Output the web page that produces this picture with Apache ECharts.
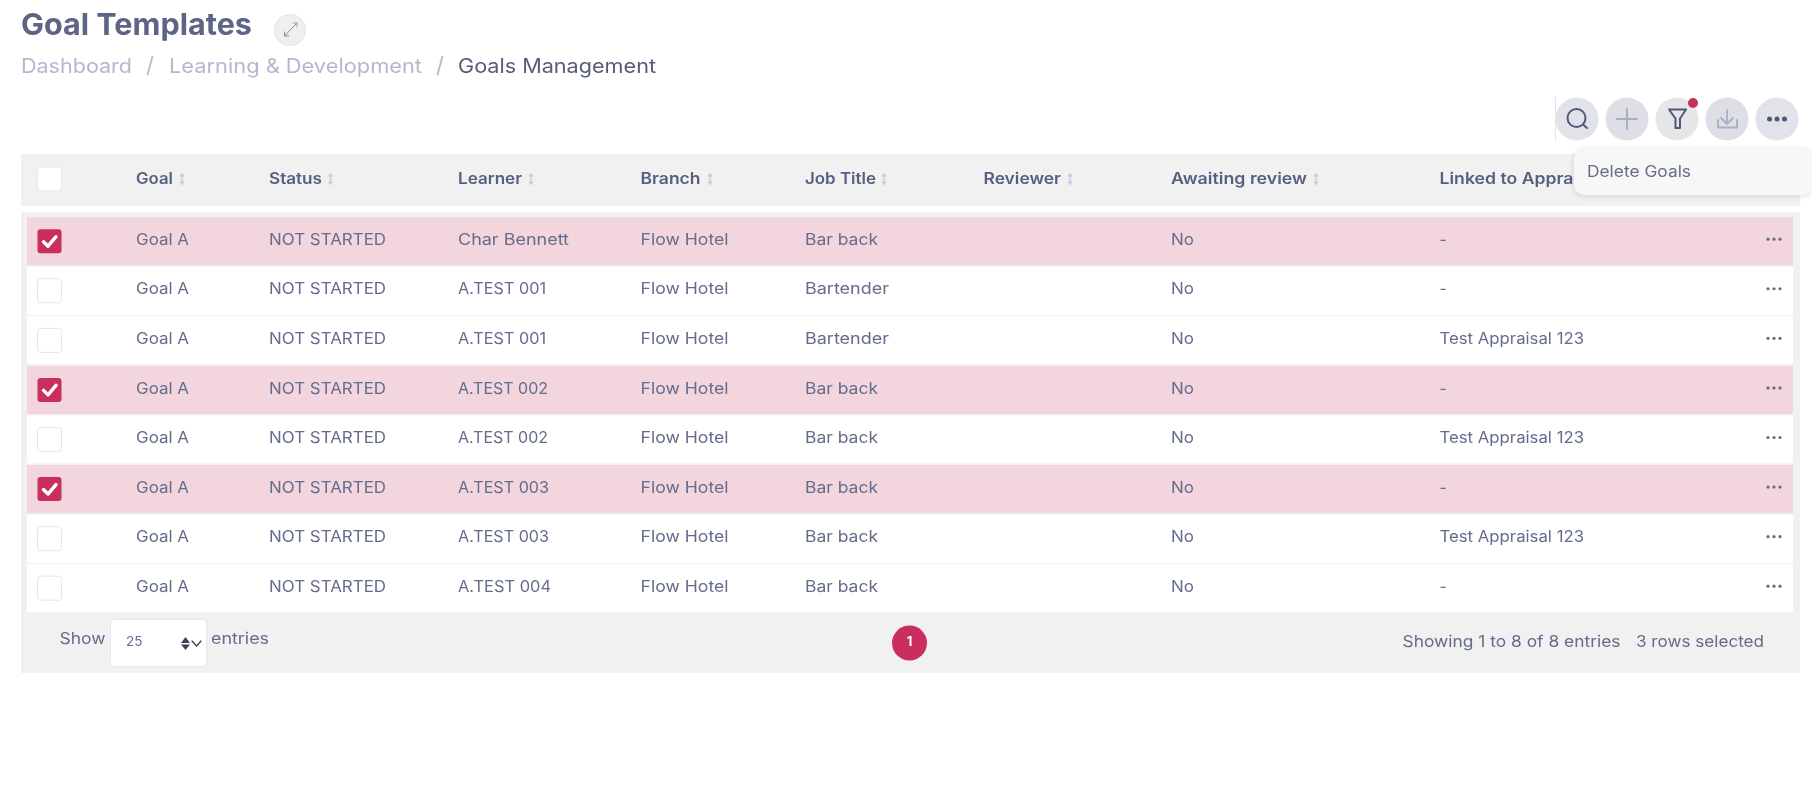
<!DOCTYPE html>
<html>
<head>
<meta charset="utf-8">
<title>Goal Templates</title>
<style>
html, body { margin: 0; padding: 0; background: #fff; }
#main { width: 1812px; height: 808px; }
</style>
<script src="https://cdn.jsdelivr.net/npm/echarts@6/dist/echarts.min.js"></script>
</head>
<body>
<div id="main"></div>
<script>
/*====================数据====================*/
var headers = ['Goal', 'Status', 'Learner', 'Branch', 'Job Title', 'Reviewer', 'Awaiting review', 'Linked to Appraisal'];
var goals = ['Goal A', 'Goal A', 'Goal A', 'Goal A', 'Goal A', 'Goal A', 'Goal A', 'Goal A'];
var statuses = ['NOT STARTED', 'NOT STARTED', 'NOT STARTED', 'NOT STARTED', 'NOT STARTED', 'NOT STARTED', 'NOT STARTED', 'NOT STARTED'];
var learners = ['Char Bennett', 'A.TEST 001', 'A.TEST 001', 'A.TEST 002', 'A.TEST 002', 'A.TEST 003', 'A.TEST 003', 'A.TEST 004'];
var branches = ['Flow Hotel', 'Flow Hotel', 'Flow Hotel', 'Flow Hotel', 'Flow Hotel', 'Flow Hotel', 'Flow Hotel', 'Flow Hotel'];
var jobTitles = ['Bar back', 'Bartender', 'Bartender', 'Bar back', 'Bar back', 'Bar back', 'Bar back', 'Bar back'];
var reviewers = ['', '', '', '', '', '', '', ''];
var awaiting = ['No', 'No', 'No', 'No', 'No', 'No', 'No', 'No'];
var linked = ['-', '-', 'Test Appraisal 123', '-', 'Test Appraisal 123', '-', 'Test Appraisal 123', '-'];
var selected = [1, 0, 0, 1, 0, 1, 0, 0];
var breadcrumbs = ['Dashboard', 'Learning & Development', 'Goals Management'];
var rowNames = ['r1', 'r2', 'r3', 'r4', 'r5', 'r6', 'r7', 'r8'];

/*====================布局+样式====================*/
var columns = [goals, statuses, learners, branches, jobTitles, reviewers, awaiting, linked];
var colLeft = [136, 269, 458, 640.5, 805, 983.5, 1171, 1439.5];
var sortLeft = [182, 330.5, 531, 710, 884, 1070, 1316];
var FONT = 'Inter, "Noto Sans", sans-serif';
var TEXT = '#646c8b';
var HEAD = '#575f80';
var MUTED = '#b3b8cf';
var RED = '#c92e5f';
var PINK = '#f3d5dd';
var GRAY = '#f1f1f1';
var ICON = '#a9aec4';
var DARK = '#4f5879';

// 原图字体比 Inter 宽，这里按原图量出的文字宽度横向拉伸
var textWidths = {
    'Goal Templates': 231, 'Dashboard': 111, 'Learning & Development': 253, 'Goals Management': 198,
    'Goal': 37, 'Status': 53, 'Learner': 64, 'Branch': 60, 'Job Title': 71, 'Reviewer': 77.5,
    'Awaiting review': 136, 'Linked to Appraisal': 163,
    'Goal A': 53, 'NOT STARTED': 117, 'Char Bennett': 111, 'A.TEST 001': 88, 'A.TEST 002': 90,
    'A.TEST 003': 91, 'A.TEST 004': 93, 'Flow Hotel': 88, 'Bar back': 73, 'Bartender': 84,
    'No': 23, 'Test Appraisal 123': 144.5, 'Delete Goals': 104, 'Show': 46, 'entries': 58,
    'Showing 1 to 8 of 8 entries': 218, '3 rows selected': 128
};
var measureCtx = document.createElement('canvas').getContext('2d');

function font(size, weight) {
    return (weight || 400) + ' ' + size + 'px ' + FONT;
}

function label(x, y, text, size, fill, weight, z, align) {
    var fontStr = font(size, weight);
    measureCtx.font = fontStr;
    var target = textWidths[text];
    return {
        type: 'text',
        z: z || 5,
        x: x,
        y: y,
        scaleX: target ? target / measureCtx.measureText(text).width : 1,
        style: { x: 0, y: 0, text: text, fill: fill, font: fontStr, verticalAlign: 'middle', align: align || 'left' }
    };
}

function circle(cx, cy, r, fill, z) {
    return { type: 'circle', z: z || 5, shape: { cx: cx, cy: cy, r: r }, style: { fill: fill } };
}

function box(x, y, w, h, fill, r, z, extra) {
    var style = { fill: fill };
    for (var k in extra) style[k] = extra[k];
    return { type: 'rect', z: z || 1, shape: { x: x, y: y, width: w, height: h, r: r || 0 }, style: style };
}

function stroke(points, color, width) {
    return {
        type: 'polyline',
        z: 6,
        shape: { points: points },
        style: { fill: null, stroke: color, lineWidth: width || 1.5, lineCap: 'round', lineJoin: 'round' }
    };
}

/*====================页面外框 (graphic)====================*/
var chrome = [
    box(21, 154, 1779, 52, GRAY),
    box(21, 212, 1779, 461, GRAY),
    label(21, 26, 'Goal Templates', 30, '#5d6587', 700),
    { type: 'circle', z: 5, shape: { cx: 290, cy: 30, r: 15.5 }, style: { fill: '#efefef', stroke: '#e2e2e2', lineWidth: 1 } },
    stroke([[284.5, 36], [297, 23]], '#7f8fa8', 1),
    stroke([[293, 23], [297, 23], [297, 27]], '#9aa0b4', 1),
    stroke([[284.5, 32], [284.5, 36], [288.5, 36]], '#6f8fb0', 1),
    label(21, 67, breadcrumbs[0], 20, MUTED),
    label(146, 66, '/', 22, MUTED),
    label(169, 67, breadcrumbs[1], 20, MUTED),
    label(436, 66, '/', 22, MUTED),
    label(458, 67, breadcrumbs[2], 20, '#565c78'),
    box(1555, 96, 1, 46, '#e6e6ea', 0, 5),
    circle(1577, 119, 21.5, '#e2e2ea'),
    circle(1627, 119, 21.5, '#dedee6'),
    circle(1677, 119, 21.5, '#e6e6e8'),
    circle(1727, 119, 21.5, '#dedee6'),
    circle(1777, 119, 21.5, '#e2e2ea'),
    { type: 'circle', z: 6, shape: { cx: 1576.5, cy: 118, r: 9 }, style: { fill: null, stroke: DARK, lineWidth: 2 } },
    stroke([[1583.5, 125], [1587, 128]], DARK, 2),
    stroke([[1617, 119], [1637, 119]], ICON, 2),
    stroke([[1627, 109], [1627, 129]], ICON, 2),
    stroke([[1669, 109.5], [1686, 109.5], [1680, 118.5], [1680, 128], [1675.5, 128], [1675.5, 118.5], [1669, 109.5]], DARK, 2),
    circle(1693, 103, 5, RED, 7),
    stroke([[1727, 110], [1727, 124]], ICON, 1.8),
    stroke([[1721, 118], [1727, 124], [1733, 118]], ICON, 1.8),
    stroke([[1718, 120], [1718, 127.5], [1737, 127.5], [1737, 120]], ICON, 1.8),
    circle(1769.5, 119, 2.5, DARK, 6),
    circle(1777, 119, 2.5, DARK, 6),
    circle(1784.5, 119, 2.5, DARK, 6),
    box(37.5, 167, 24, 24, '#fff', 3, 5, { stroke: '#e6e6e6', lineWidth: 1 }),
    box(1574, 149, 238, 46, '#f7f7f7', 10, 20, { shadowBlur: 6, shadowColor: 'rgba(0,0,0,0.14)', shadowOffsetY: 1 }),
    label(1587, 172, 'Delete Goals', 15.5, TEXT, 400, 21),
    label(59.5, 639, 'Show', 15.5, TEXT),
    box(110.5, 619.5, 96, 47, '#fff', 3, 5, { stroke: '#e8e8e8', lineWidth: 1 }),
    label(126, 642, '25', 13.5, TEXT),
    { type: 'polygon', z: 6, shape: { points: [[185.5, 637], [181, 643], [190, 643]] }, style: { fill: '#3f4152' } },
    { type: 'polygon', z: 6, shape: { points: [[185.5, 650], [181, 644.5], [190, 644.5]] }, style: { fill: '#3f4152' } },
    stroke([[192, 641], [196.5, 646], [201, 641]], '#3f4152', 1.3),
    label(211, 639, 'entries', 15.5, TEXT),
    circle(909.5, 643, 17.5, RED),
    label(909.5, 642.5, '1', 13, '#fff', 700, 6, 'center'),
    label(1402.5, 642.5, 'Showing 1 to 8 of 8 entries', 15.5, TEXT),
    label(1636, 642.5, '3 rows selected', 15.5, TEXT)
];

// 表头 + 排序箭头
for (var i = 0; i < headers.length; i++) {
    chrome.push(label(colLeft[i], 179, headers[i], 15.5, HEAD, 600));
    if (i < sortLeft.length) {
        var sx = sortLeft[i];
        chrome.push(stroke([[sx, 174], [sx, 184]], '#c8cbdb', 1.4));
        chrome.push(stroke([[sx - 1.5, 176], [sx, 174], [sx + 1.5, 176]], '#c8cbdb', 1.4));
        chrome.push(stroke([[sx - 1.5, 182], [sx, 184], [sx + 1.5, 182]], '#c8cbdb', 1.4));
    }
}

/*====================行 (custom series)====================*/
function renderRow(params, api) {
    var row = api.value(0);
    var cy = api.coord([0, row])[1];
    var isOn = selected[row] === 1;
    var children = [{
        type: 'rect',
        shape: { x: 27, y: cy - 24, width: 1766, height: 48 },
        style: { fill: isOn ? PINK : '#fff' }
    }];

    // 复选框
    children.push({
        type: 'rect',
        shape: { x: api.coord([37.5, row])[0], y: cy - 12, width: 24, height: 24, r: 3 },
        style: isOn ? { fill: RED } : { fill: '#fff', stroke: '#e6e6e6', lineWidth: 1 }
    });
    if (isOn) {
        children.push({
            type: 'polyline',
            shape: { points: [[43.5, cy + 0.5], [48, cy + 5], [56, cy - 4.5]] },
            style: { fill: null, stroke: '#fff', lineWidth: 3.4, lineCap: 'round', lineJoin: 'round' }
        });
    }

    // 单元格文字
    for (var c = 0; c < columns.length; c++) {
        children.push(label(api.coord([colLeft[c], row])[0], cy - 1, columns[c][row], 15.5, TEXT));
    }

    // 行操作
    for (var d = -1; d <= 1; d++) {
        children.push({
            type: 'circle',
            shape: { cx: 1774 + d * 6, cy: cy - 2, r: 1.6 },
            style: { fill: TEXT }
        });
    }
    return { type: 'group', children: children };
}

var myChart = echarts.init(document.getElementById('main'), null, { renderer: 'canvas' });
var option = {
    animation: false,
    backgroundColor: '#fff',
    grid: { left: 0, top: 216.4, width: 1812, height: 396.6, containLabel: false },
    xAxis: { type: 'value', min: 0, max: 1812, show: false },
    yAxis: { type: 'category', inverse: true, data: rowNames, show: false },
    graphic: { elements: chrome },
    series: [{
        type: 'custom',
        coordinateSystem: 'cartesian2d',
        renderItem: renderRow,
        encode: { x: 1, y: 0 },
        data: rowNames.map(function (name, idx) { return [idx, 0]; }),
        z: 3
    }]
};
myChart.setOption(option);
</script>
</body>
</html>
